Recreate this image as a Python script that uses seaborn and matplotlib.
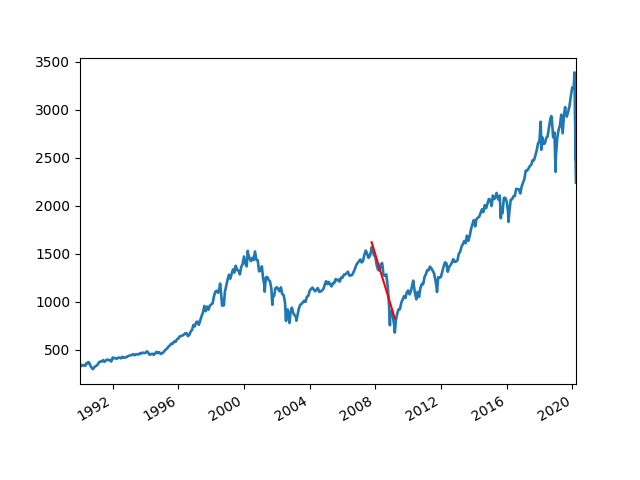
import matplotlib
matplotlib.use("Agg")
import matplotlib.pyplot as plt
import seaborn as sns
import pandas as pd

# Month-end closes, Jan 1990 .. Dec 1999
close_1990s = [
    329.1, 331.9, 339.9, 330.8, 361.2, 358.0, 356.2, 322.6, 306.1, 304.0, 322.2, 330.2,
    343.9, 367.1, 375.2, 375.3, 389.8, 371.2, 387.8, 395.4, 387.9, 392.5, 375.2, 417.1,
    408.8, 412.7, 403.7, 414.9, 415.4, 408.1, 424.2, 414.0, 417.8, 418.7, 431.4, 435.7,
    438.8, 443.4, 451.7, 440.2, 450.2, 450.5, 448.1, 463.6, 458.9, 467.8, 461.8, 466.5,
    481.6, 467.1, 445.8, 450.9, 456.5, 444.3, 458.3, 475.5, 462.7, 472.4, 453.7, 459.3,
    470.4, 487.4, 500.7, 514.7, 533.4, 544.8, 562.1, 561.9, 584.4, 581.5, 605.4, 615.9,
    636.0, 640.4, 645.5, 654.2, 669.1, 670.6, 639.9, 652.0, 687.3, 705.3, 757.0, 740.7,
    786.2, 790.8, 757.1, 801.3, 848.3, 885.1, 954.3, 899.5, 947.3, 914.6, 955.4, 970.4,
    980.3, 1049.3, 1101.8, 1111.8, 1090.8, 1133.8, 1120.7, 957.3, 1017.0, 1098.7, 1163.6, 1229.2,
    1279.6, 1238.3, 1286.4, 1335.2, 1301.8, 1372.7, 1328.7, 1320.4, 1282.7, 1362.9, 1389.0, 1469.3,
]
# Jan 2000 .. Dec 2009
close_2000s = [
    1394.5, 1366.4, 1498.6, 1452.4, 1420.6, 1454.6, 1430.8, 1517.7, 1436.5, 1429.4, 1314.9, 1320.3,
    1366.0, 1239.9, 1160.3, 1249.5, 1255.8, 1224.4, 1211.2, 1133.6, 1040.9, 1059.8, 1139.5, 1148.1,
    1130.2, 1106.7, 1147.4, 1076.9, 1067.1, 989.8, 911.6, 916.1, 815.3, 885.8, 936.3, 879.8,
    855.7, 841.2, 848.2, 916.9, 963.6, 974.5, 990.3, 1008.0, 996.0, 1050.7, 1058.2, 1111.9,
    1131.1, 1144.9, 1126.2, 1107.3, 1120.7, 1140.8, 1101.7, 1104.2, 1114.6, 1130.2, 1173.8, 1211.9,
    1181.3, 1203.6, 1180.6, 1156.9, 1191.5, 1191.3, 1234.2, 1220.3, 1228.8, 1207.0, 1249.5, 1248.3,
    1280.1, 1280.7, 1294.9, 1310.6, 1270.1, 1270.2, 1276.7, 1303.8, 1335.8, 1377.9, 1400.6, 1418.3,
    1438.2, 1406.8, 1420.9, 1482.4, 1530.6, 1503.4, 1455.3, 1474.0, 1526.8, 1549.4, 1481.1, 1468.4,
    1378.6, 1330.6, 1322.7, 1385.6, 1400.4, 1280.0, 1267.4, 1282.8, 1166.4, 968.8, 896.2, 903.3,
    825.9, 735.1, 797.9, 872.8, 919.1, 919.3, 987.5, 1020.6, 1057.1, 1036.2, 1095.6, 1115.1,
]
# Jan 2010 .. Dec 2019
close_2010s = [
    1073.9, 1104.5, 1169.4, 1186.7, 1089.4, 1030.7, 1101.6, 1049.3, 1141.2, 1183.3, 1180.6, 1257.6,
    1286.1, 1327.2, 1325.8, 1363.6, 1345.2, 1320.6, 1292.3, 1218.9, 1131.4, 1253.3, 1247.0, 1257.6,
    1312.4, 1366.0, 1408.5, 1397.9, 1310.3, 1362.2, 1379.3, 1406.6, 1440.7, 1412.2, 1416.2, 1426.2,
    1498.1, 1514.7, 1569.2, 1597.6, 1630.7, 1606.3, 1685.7, 1633.0, 1681.6, 1756.5, 1805.8, 1848.4,
    1782.6, 1859.5, 1872.3, 1883.9, 1923.6, 1960.2, 1930.7, 2003.4, 1972.3, 2018.1, 2067.6, 2058.9,
    1995.0, 2104.5, 2067.9, 2085.5, 2107.4, 2063.1, 2103.8, 1972.2, 1920.0, 2079.4, 2080.4, 2043.9,
    1940.2, 1932.2, 2059.7, 2065.3, 2096.9, 2098.9, 2173.6, 2170.9, 2168.3, 2126.2, 2199.0, 2238.8,
    2278.9, 2363.6, 2362.7, 2384.2, 2411.8, 2423.4, 2470.3, 2471.7, 2519.4, 2575.3, 2647.6, 2673.6,
    2823.8, 2713.8, 2640.9, 2648.1, 2705.3, 2718.4, 2816.3, 2901.5, 2914.0, 2711.7, 2760.2, 2506.9,
    2704.1, 2784.5, 2834.4, 2945.8, 2752.1, 2941.8, 2980.4, 2926.5, 2976.7, 3037.6, 3141.0, 3230.8,
]
# Jan 2020 .. Feb 2020
close_2020 = [3225.5, 2954.2]

# Notable intra-month highs / lows
extreme_dates = [
    "1990-01-02", "1990-07-16", "1990-10-11", "1998-07-17", "1998-10-08",
    "2000-03-24", "2000-09-01", "2001-04-04", "2001-09-21", "2002-07-23",
    "2002-10-09", "2003-03-11", "2007-10-09", "2008-11-20", "2009-03-09",
    "2010-04-23", "2010-07-02", "2011-04-29", "2011-10-03", "2015-05-21",
    "2015-08-25", "2016-02-11", "2018-01-26", "2018-02-08", "2018-09-20",
    "2018-12-24", "2019-07-26", "2020-02-19", "2020-03-09", "2020-03-12",
    "2020-03-13", "2020-03-16", "2020-03-23",
]
extreme_values = [
    353.4, 369.0, 295.5, 1186.8, 959.4,
    1527.5, 1520.8, 1103.3, 965.8, 797.7,
    776.8, 800.7, 1565.2, 752.4, 676.5,
    1217.3, 1022.6, 1363.6, 1099.2, 2130.8,
    1867.6, 1829.1, 2872.9, 2581.0, 2930.8,
    2351.1, 3025.9, 3386.2, 2746.6, 2480.6,
    2711.0, 2386.1, 2237.4,
]

# Red overlay line
red_dates = ["2007-10-09", "2009-03-09"]
red_values = [1618.0, 824.0]

monthly_values = close_1990s + close_2000s + close_2010s + close_2020
monthly_dates = pd.date_range("1990-01-31", periods=len(monthly_values), freq="ME")

df = pd.concat([
    pd.DataFrame({"date": monthly_dates, "value": monthly_values}),
    pd.DataFrame({"date": pd.to_datetime(extreme_dates), "value": extreme_values}),
]).sort_values("date").reset_index(drop=True)

red_df = pd.DataFrame({"date": pd.to_datetime(red_dates), "value": red_values})

fig, ax = plt.subplots(figsize=(6.4, 4.8), dpi=100)
sns.lineplot(data=df, x="date", y="value", ax=ax, color="#1f77b4", linewidth=1.9)
sns.lineplot(data=red_df, x="date", y="value", ax=ax, color="red", linewidth=1.5)
ax.set_xlim(df["date"].min(), df["date"].max())
ax.set_xlabel("")
ax.set_ylabel("")
fig.autofmt_xdate()
fig.savefig("out.png", dpi=100)
